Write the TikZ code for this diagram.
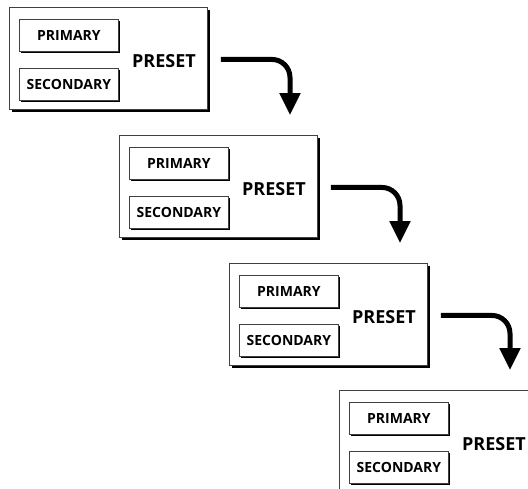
\documentclass[tikz,border=0pt]{standalone}
\usepackage{fontspec}
\setmainfont{Open Sans}
\usetikzlibrary{arrows.meta,shadows}
\tikzset{
  x=1pt,y=-1pt,
  framebox/.style={draw=black!75, line width=0.9pt, fill=white, anchor=north west,
    minimum width=198pt, minimum height=102pt, inner sep=0pt,
    drop shadow={shadow xshift=2.5pt, shadow yshift=-2.5pt, opacity=1, fill=black}},
  subbox/.style={draw=black!75, line width=0.8pt, fill=white, anchor=north west,
    minimum width=99pt, minimum height=32pt, inner sep=0pt,
    font=\bfseries\fontsize{14}{16}\selectfont,
    drop shadow={shadow xshift=2pt, shadow yshift=-2pt, opacity=1, fill=black}},
  presetlabel/.style={font=\bfseries\fontsize{18}{20}\selectfont, inner sep=0pt},
  flowarrow/.style={line width=5pt, rounded corners=18pt,
    -{Triangle[width=20pt,length=22pt]}},
}
\begin{document}
\begin{tikzpicture}
\useasboundingbox (0,0) rectangle (528,488);
\foreach \i/\bx/\by in {1/9/7, 2/119/135, 3/229/263, 4/339/390} {
  \node[framebox] (b\i) at (\bx,\by) {};
  \node[subbox] (p\i) at (\bx+10,\by+12) {PRIMARY};
  \node[subbox] (s\i) at (\bx+10,\by+61) {SECONDARY};
  \node[presetlabel] (l\i) at (\bx+155,\by+54) {PRESET};
}
\foreach \i/\j in {1/2, 2/3, 3/4} {
  \coordinate (a\i) at ([xshift=13pt,yshift=-1pt]b\i.east);
  \coordinate (t\i) at ([xshift=171pt,yshift=20pt]b\j.north west);
  \draw[flowarrow] (a\i) -| (t\i);
}
\end{tikzpicture}
\end{document}
